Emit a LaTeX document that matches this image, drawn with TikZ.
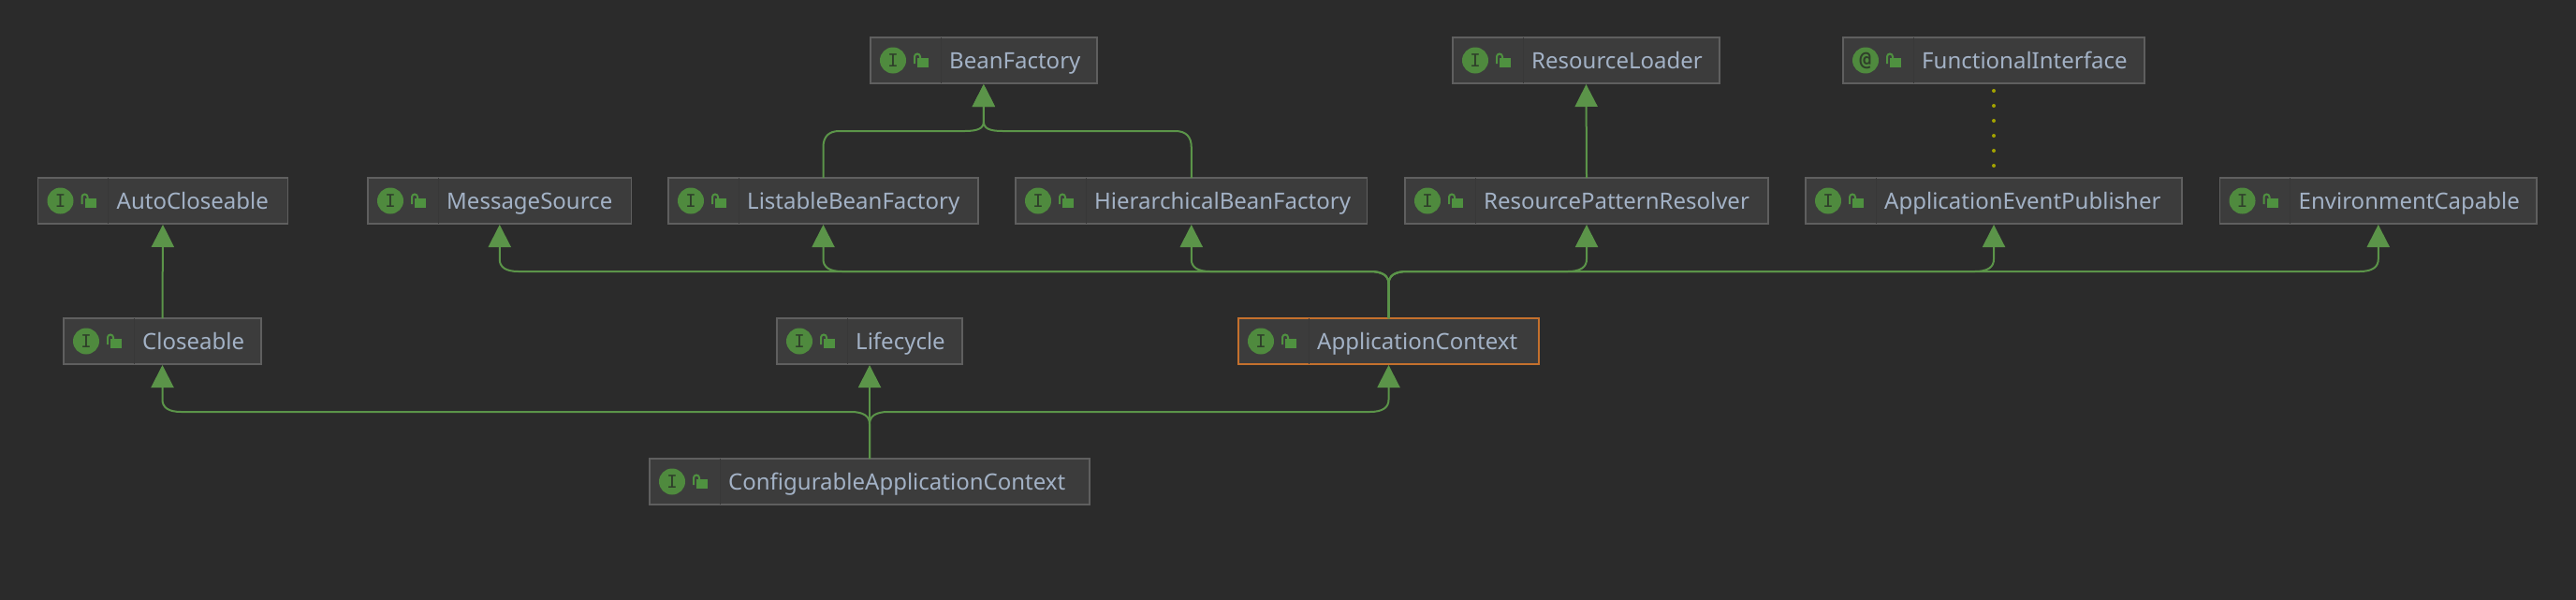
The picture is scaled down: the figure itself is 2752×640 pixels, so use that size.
\documentclass[tikz,border=0pt]{standalone}
\usepackage{fontspec}
\setmainfont{Noto Sans}
\newfontfamily\monoglyph{DejaVu Sans Mono}
\usetikzlibrary{arrows.meta,calc}
\definecolor{bgc}{HTML}{2B2B2B}
\definecolor{boxfill}{HTML}{3C3C3C}
\definecolor{boxline}{HTML}{5F5F5F}
\definecolor{divc}{HTML}{383838}
\definecolor{orangec}{HTML}{C4702D}
\definecolor{txtc}{HTML}{A3B2C6}
\definecolor{iconc}{HTML}{4F8A3E}
\definecolor{lockc}{HTML}{4F9140}
\definecolor{glyphc}{HTML}{2F3F2A}
\definecolor{linkc}{HTML}{5B9449}
\definecolor{dotc}{HTML}{A3A300}
\tikzset{
  x=1pt,y=-1pt,
  ifbox/.style={draw=boxline,fill=boxfill,line width=1.8pt,rectangle,minimum height=49pt,inner sep=0pt,outer sep=0pt,anchor=north west},
  ifname/.style={text=txtc,font=\fontsize{24}{28}\selectfont,inner sep=0pt,anchor=base west},
  ificon/.style={circle,fill=iconc,minimum size=28pt,inner sep=0pt,text=glyphc},
  linkline/.style={draw=linkc,line width=2pt},
  inherit/.style={linkline,shorten >=1pt,-{Triangle[length=24pt,width=24pt,fill=linkc]}},
  dotted link/.style={draw=dotc,line width=4pt,line cap=round,dash pattern=on 0pt off 16pt,shorten <=8pt,shorten >=13pt}
}
% name, left, width, top, text, glyph, glyph font, border colour
\newcommand\ifacebox[8]{%
  \node[ifbox,minimum width=#3pt,draw=#8] (#1) at (#2,#4) {};
  \draw[divc,line width=1pt] ([xshift=75pt]#1.north west) -- ([xshift=75pt]#1.south west);
  \node[ificon,font=#7] (#1-icon) at ([xshift=24pt]#1.west) {#6};
  \fill[lockc] ($(#1.west)+(50,-2.8)$) rectangle ($(#1.west)+(62,7.2)$);
  \draw[lockc,line width=2pt] ($(#1.west)+(47,3.5)$) -- ($(#1.west)+(47,-4)$) arc[start angle=180,end angle=0,radius=3pt] -- ($(#1.west)+(53,-2.5)$);
  \node[ifname] (#1-name) at ([xshift=84pt,yshift=-8.5pt]#1.west) {#5};
}
% source, target, bus coordinate, direction (1 target to the right, -1 left)
\newcommand\busup[4]{%
  \draw[inherit] (#1.north)
    -- ($(#1.north |- #3)+(0,13)$)
    .. controls ($(#1.north |- #3)+(0,5)$) and ($(#1.north |- #3)+(#4*6,0)$) .. ($(#1.north |- #3)+(#4*20,0)$)
    -- ($(#2.south |- #3)+(-#4*20,0)$)
    .. controls ($(#2.south |- #3)+(-#4*6,0)$) and ($(#2.south |- #3)+(0,-5)$) .. ($(#2.south |- #3)+(0,-13)$)
    -- (#2.south);
}
% same, with a plain rounded bend at the source
\newcommand\busbend[4]{%
  \draw[inherit] (#1.north)
    -- ($(#1.north |- #3)+(0,17)$)
    .. controls ($(#1.north |- #3)+(0,6)$) and ($(#1.north |- #3)+(#4*6,0)$) .. ($(#1.north |- #3)+(#4*17,0)$)
    -- ($(#2.south |- #3)+(-#4*20,0)$)
    .. controls ($(#2.south |- #3)+(-#4*6,0)$) and ($(#2.south |- #3)+(0,-3)$) .. ($(#2.south |- #3)+(0,-10)$)
    -- (#2.south);
}
\begin{document}
\begin{tikzpicture}
\useasboundingbox (0,0) rectangle (2752,640);
\fill[bgc] (-4,-4) rectangle (2756,644);
\coordinate (busA) at (0,140);
\coordinate (busB) at (0,290);
\coordinate (busC) at (0,440);
\def\gf{\monoglyph\fontsize{19}{19}\selectfont}
\def\gat{\monoglyph\bfseries\fontsize{21}{21}\selectfont}
\ifacebox{beanfactory}{930}{241.7}{40}{BeanFactory}{I}{\gf}{boxline}
\ifacebox{resloader}{1552}{285}{40}{ResourceLoader}{I}{\gf}{boxline}
\ifacebox{funcif}{1969}{322}{40}{FunctionalInterface}{@}{\gat}{boxline}
\ifacebox{autoclose}{40.5}{267}{190}{AutoCloseable}{I}{\gf}{boxline}
\ifacebox{msgsource}{393}{281.5}{190}{MessageSource}{I}{\gf}{boxline}
\ifacebox{listable}{714}{331}{190}{ListableBeanFactory}{I}{\gf}{boxline}
\ifacebox{hier}{1085}{375.5}{190}{HierarchicalBeanFactory}{I}{\gf}{boxline}
\ifacebox{respat}{1501}{388}{190}{ResourcePatternResolver}{I}{\gf}{boxline}
\ifacebox{pub}{1929}{402}{190}{ApplicationEventPublisher}{I}{\gf}{boxline}
\ifacebox{envcap}{2371.5}{338.5}{190}{EnvironmentCapable}{I}{\gf}{boxline}
\ifacebox{closeable}{68}{211}{340}{Closeable}{I}{\gf}{boxline}
\ifacebox{lifecycle}{830}{198}{340}{Lifecycle}{I}{\gf}{boxline}
\ifacebox{appctx}{1323}{321}{340}{ApplicationContext}{I}{\gf}{orangec}
\ifacebox{confctx}{694}{470}{490}{ConfigurableApplicationContext}{I}{\gf}{boxline}
% connectors
\busbend{listable}{beanfactory}{busA}{1}
\busbend{hier}{beanfactory}{busA}{-1}
\draw[inherit] (respat.north) -- (resloader.south);
\draw[dotted link] (funcif.south) -- (pub.north);
\draw[inherit] (closeable.north) -- (autoclose.south);
\busup{appctx}{msgsource}{busB}{-1}
\busup{appctx}{listable}{busB}{-1}
\busup{appctx}{hier}{busB}{-1}
\busup{appctx}{respat}{busB}{1}
\busup{appctx}{pub}{busB}{1}
\busup{appctx}{envcap}{busB}{1}
\busup{confctx}{closeable}{busC}{-1}
\draw[inherit] (confctx.north) -- (lifecycle.south);
\busup{confctx}{appctx}{busC}{1}
\end{tikzpicture}
\end{document}
